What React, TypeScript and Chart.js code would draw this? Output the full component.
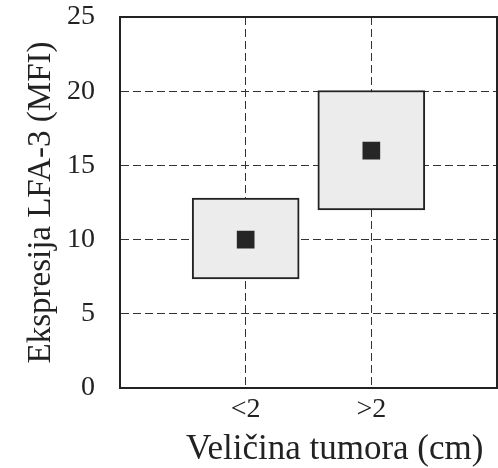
import React, { useEffect, useRef } from "react";
import { Chart, registerables } from "chart.js";

Chart.register(...registerables);

const categories = ["", "<2", ">2", ""];
const boxLow = [null, 7.35, 12.0, null];
const boxHigh = [null, 12.8, 20.05, null];
const means = [null, 10.0, 16.0, null];
const yTicks = [0, 5, 10, 15, 20, 25];

const FONT = "'Liberation Serif', 'DejaVu Serif', serif";
const INK = "#222222";

const framePlugin = {
  id: "frame",
  afterDraw(chart: any) {
    const { ctx, chartArea } = chart;
    ctx.save();
    ctx.strokeStyle = INK;
    ctx.lineWidth = 2;
    ctx.strokeRect(chartArea.left, chartArea.top, chartArea.right - chartArea.left, chartArea.bottom - chartArea.top);
    ctx.restore();
  },
};

export default function App() {
  const ref = useRef<HTMLCanvasElement | null>(null);
  useEffect(() => {
    if (!ref.current) return;
    const chart = new Chart(ref.current, {
      type: "bar",
      data: {
        labels: categories,
        datasets: [
          {
            type: "line",
            data: means as any,
            showLine: false,
            pointStyle: "rect",
            pointRadius: 12.5,
            pointBackgroundColor: "#262626",
            pointBorderColor: "#262626",
            pointBorderWidth: 0,
            order: 0,
          } as any,
          {
            type: "bar",
            data: boxLow.map((v, i) => (v === null ? null : [v, boxHigh[i] as number])) as any,
            backgroundColor: "#ececec",
            borderColor: INK,
            borderWidth: 2,
            borderSkipped: false,
            barThickness: 107,
            order: 1,
          } as any,
        ],
      },
      options: {
        responsive: false,
        animation: false,
        layout: { autoPadding: false, padding: { top: 17, right: 1, left: 0, bottom: 0 } },
        plugins: { legend: { display: false }, tooltip: { enabled: false } },
        scales: {
          x: {
            type: "category",
            offset: false,
            afterFit: (s: any) => { s.height = 80; s.paddingLeft = 0; s.paddingRight = 0; },
            grid: { color: "#333333", lineWidth: 1, drawTicks: false, offset: false },
            border: { display: true, color: INK, width: 2, dash: [8, 4] },
            ticks: { color: INK, font: { family: FONT, size: 28 }, padding: 5, maxRotation: 0, autoSkip: false },
            title: { display: true, text: "\u2002\u2002\u2002Veličina tumora (cm)", color: INK, font: { family: FONT, size: 35 }, padding: { top: 0, bottom: -3 } },
          },
          y: {
            min: 0,
            max: 25,
            afterFit: (s: any) => { s.width = 120; s.paddingTop = 0; s.paddingBottom = 0; },
            afterBuildTicks: (s: any) => { s.ticks = yTicks.map((v) => ({ value: v })); },
            grid: { color: "#333333", lineWidth: 1, drawTicks: false },
            border: { display: true, color: INK, width: 2, dash: [8, 4] },
            ticks: { color: INK, font: { family: FONT, size: 28 }, padding: 25 },
            title: { display: true, text: "Ekspresija LFA-3 (MFI)", color: INK, font: { family: FONT, size: 33 }, padding: { top: 22, bottom: 0 } },
          },
        },
      },
      plugins: [framePlugin],
    });
    return () => chart.destroy();
  }, []);
  return (
    <div style={{ position: "absolute", left: 0, top: 0, width: 498, height: 468, background: "#fff" }}>
      <canvas ref={ref} width={498} height={468} />
    </div>
  );
}
